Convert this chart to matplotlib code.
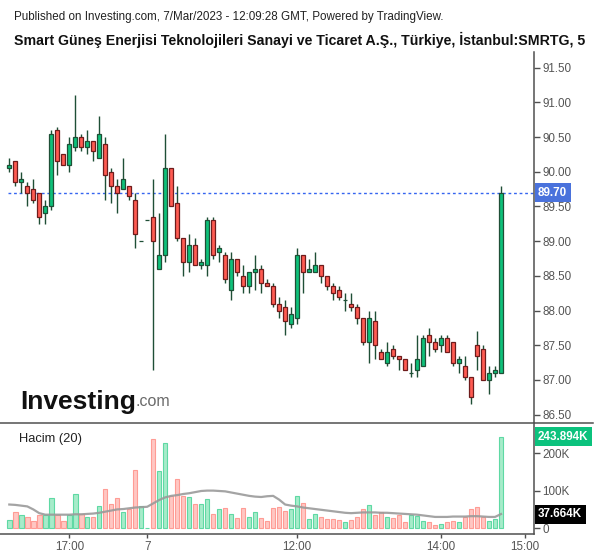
import matplotlib
matplotlib.use("Agg")
import matplotlib.pyplot as plt
from matplotlib.lines import Line2D
import numpy as np

# 5-minute candles, SMRTG, 6-7 Mar 2023
opens = [90.05, 90.15, 89.85, 89.80, 89.75, 89.70, 89.40, 89.50, 90.60, 90.25,
         90.10, 90.35, 90.50, 90.35, 90.45, 90.20, 90.40, 90.00, 89.80, 89.75,
         89.80, 89.60, 89.00, 89.30, 89.35, 88.60, 88.80, 90.05, 89.55, 89.05,
         88.70, 88.95, 88.65, 88.65, 89.30, 88.85, 88.80, 88.30, 88.75, 88.50,
         88.35, 88.55, 88.60, 88.40, 88.35, 88.10, 88.05, 87.80, 87.90, 88.80,
         88.55, 88.55, 88.65, 88.50, 88.35, 88.30, 88.15, 88.10, 88.05, 87.90,
         87.55, 87.85, 87.40, 87.25, 87.45, 87.35, 87.30, 87.10, 87.15, 87.20,
         87.65, 87.55, 87.50, 87.60, 87.55, 87.25, 87.20, 87.05, 87.50, 87.45,
         87.00, 87.10, 87.10]
highs = [90.20, 90.15, 90.00, 89.85, 89.90, 89.70, 89.60, 90.60, 90.65, 90.25,
         90.50, 91.10, 90.55, 90.60, 90.45, 90.80, 90.50, 90.05, 89.90, 90.20,
         89.80, 89.70, 89.00, 89.30, 89.90, 89.40, 90.55, 90.05, 89.80, 89.05,
         89.10, 89.05, 88.75, 89.35, 89.35, 88.95, 88.85, 88.85, 88.75, 88.65,
         88.55, 88.80, 88.65, 88.45, 88.40, 88.20, 88.15, 88.05, 88.90, 88.80,
         88.75, 88.85, 88.65, 88.50, 88.40, 88.35, 88.25, 88.25, 88.10, 87.90,
         88.00, 88.00, 87.45, 87.55, 87.50, 87.35, 87.30, 87.25, 87.65, 87.65,
         87.75, 87.60, 87.65, 87.65, 87.55, 87.35, 87.35, 87.05, 87.70, 87.50,
         87.20, 87.20, 89.80]
lows = [90.00, 89.80, 89.70, 89.50, 89.55, 89.25, 89.25, 89.45, 89.95, 90.10,
        90.00, 90.30, 90.30, 90.25, 90.15, 90.20, 89.60, 89.55, 89.40, 89.75,
        89.60, 88.90, 89.00, 89.30, 87.15, 88.60, 88.70, 89.50, 89.00, 88.50,
        88.55, 88.65, 88.60, 88.50, 88.75, 88.70, 88.40, 88.15, 88.50, 88.25,
        88.25, 88.30, 88.25, 88.35, 88.05, 87.90, 87.65, 87.75, 87.80, 88.25,
        88.55, 88.55, 88.40, 88.30, 88.15, 88.15, 88.00, 88.00, 87.80, 87.50,
        87.25, 87.30, 87.30, 87.20, 87.30, 87.15, 87.15, 87.05, 87.05, 87.20,
        87.35, 87.40, 87.40, 87.40, 87.20, 87.10, 87.00, 86.65, 87.15, 87.00,
        86.80, 87.05, 87.10]
closes = [90.10, 89.85, 89.90, 89.70, 89.60, 89.35, 89.50, 90.55, 90.15, 90.10,
          90.40, 90.50, 90.35, 90.45, 90.30, 90.55, 89.95, 89.80, 89.70, 89.90,
          89.65, 89.10, 89.00, 89.30, 89.00, 88.80, 90.05, 89.50, 89.05, 88.70,
          88.95, 88.65, 88.70, 89.30, 88.80, 88.90, 88.45, 88.75, 88.55, 88.35,
          88.55, 88.60, 88.40, 88.35, 88.10, 88.00, 87.85, 87.95, 88.80, 88.55,
          88.60, 88.65, 88.50, 88.35, 88.25, 88.20, 88.15, 88.05, 87.90, 87.55,
          87.90, 87.50, 87.30, 87.40, 87.35, 87.30, 87.15, 87.10, 87.30, 87.60,
          87.55, 87.45, 87.60, 87.40, 87.25, 87.30, 87.05, 86.75, 87.35, 87.00,
          87.10, 87.15, 89.70]

# volume in thousands
volumes = [21, 44, 34, 31, 20, 36, 35, 81, 34, 20,
           34, 92, 38, 31, 31, 60, 103, 65, 81, 42,
           51, 156, 60, 1, 238, 153, 227, 85, 131, 85,
           83, 65, 65, 78, 39, 51, 54, 39, 28, 54,
           31, 43, 27, 20, 54, 57, 47, 51, 86, 67,
           24, 38, 30, 24, 24, 23, 16, 22, 31, 51,
           61, 35, 43, 30, 26, 35, 16, 36, 33, 20,
           17, 8, 11, 16, 19, 16, 30, 51, 56, 30,
           19, 25, 243.894]
# Hacim (20) moving average line
vol_ma = [63, 62, 60, 58, 50, 40, 36, 36, 36, 36,
          36, 37, 37, 38, 39, 41, 44, 47, 50, 51,
          53, 55, 56, 57, 66, 75, 82, 86, 88, 91,
          93, 96, 99, 100, 100, 99, 98, 95, 92, 89,
          86, 84, 83, 85, 86, 76, 63, 60, 58, 55,
          53, 51, 49, 47, 45, 43, 41, 40, 41, 42,
          42, 42, 41, 41, 40, 39, 38, 37, 36, 34,
          32, 30, 30, 30, 31, 31, 31, 32, 32, 31,
          30, 30, 37.664]

tick_pos = [10, 23, 48, 72, 86]
tick_labels = ["17:00", "7", "12:00", "14:00", "15:00"]
price_ticks = [86.5, 87.0, 87.5, 88.0, 88.5, 89.0, 89.5, 90.0, 90.5, 91.0, 91.5]
vol_ticks = [0, 100, 200]

title1 = "Published on Investing.com, 7/Mar/2023 - 12:09:28 GMT, Powered by TradingView."
title2 = "Smart Güneş Enerjisi Teknolojileri Sanayi ve Ticaret A.Ş., Türkiye, İstanbul:SMRTG, 5"

UP = "#0ec17a"
DOWN = "#ff5b52"
WICK = "#1f4f36"
UP_EDGE = "#1f4f36"
DOWN_EDGE = "#6e1c1c"
AXIS = "#505050"
LABEL = "#555555"

W, H = 600, 558


def fx(px):
    return px / W


def fy(py):
    return 1 - py / H


def main():
    plt.rcParams["font.family"] = ["Liberation Sans", "DejaVu Sans"]
    o = np.array(opens)
    h = np.array(highs)
    l = np.array(lows)
    c = np.array(closes)
    x = np.arange(len(o))
    up = c >= o

    fig = plt.figure(figsize=(W / 100, H / 100), dpi=100)
    ax = fig.add_axes([0, fy(423), fx(534), fy(52) - fy(423)])
    axv = fig.add_axes([0, fy(534), fx(534), fy(423) - fy(534)])

    # candles
    ax.vlines(x, l, h, color=WICK, lw=1.0, zorder=1)
    ax.bar(x, np.abs(c - o), 0.72, bottom=np.minimum(o, c),
           color=np.where(up, UP, DOWN), edgecolor=np.where(up, UP_EDGE, DOWN_EDGE),
           linewidth=0.9, zorder=2)

    ax.axhline(closes[-1], xmin=0.015, color="#3565f0", lw=1.0,
               linestyle=(0, (2, 2)), zorder=0)

    ax.set_xlim(-1.55, 87.5)
    ax.set_ylim(86.38, 91.726)
    ax.set_yticks(price_ticks)
    ax.set_yticklabels([f"{p:.2f}" for p in price_ticks])
    ax.yaxis.tick_right()
    ax.tick_params(axis="y", colors=AXIS, labelcolor=LABEL, labelsize=8.4,
                   length=4, width=1, pad=2)
    ax.set_xticks([])
    for s in ["top", "left", "bottom"]:
        ax.spines[s].set_visible(False)
    ax.spines["right"].set_color(AXIS)
    ax.spines["right"].set_linewidth(1.1)

    ax.text(1 + 4 / 534, closes[-1], f"{closes[-1]:.2f}", transform=ax.get_yaxis_transform(),
            ha="left", va="center", color="white", fontsize=8.4, fontweight="bold",
            bbox=dict(boxstyle="square,pad=0.3", fc="#4a72dc", ec="none"), clip_on=False)

    # Investing logo
    logo = fig.text(fx(20), fy(409), "Investing", fontsize=19, fontweight="bold",
                    color="#111111", va="baseline")
    ax.annotate(".com", xy=(1, 0.2), xycoords=logo, fontsize=11.5, color="#6a6a6a",
                va="bottom", ha="left", annotation_clip=False)

    # volume panel
    axv.bar(x, volumes, 0.75, color=np.where(up, "#a6ecca", "#ffc7c3"),
            edgecolor=np.where(up, "#5fd9a4", "#ff9c95"), linewidth=0.8)
    axv.plot(x, vol_ma, color="#9a9a9a", lw=1.6, alpha=0.9)
    axv.set_xlim(-1.55, 87.5)
    axv.set_ylim(-15.4, 279.8)
    axv.set_yticks(vol_ticks)
    axv.set_yticklabels([f"{v}K" if v else "0" for v in vol_ticks])
    axv.yaxis.tick_right()
    axv.tick_params(axis="y", colors=AXIS, labelcolor=LABEL, labelsize=8.4,
                    length=4, width=1, pad=2)
    axv.set_xticks(tick_pos)
    axv.set_xticklabels(tick_labels)
    axv.tick_params(axis="x", colors=AXIS, labelcolor=LABEL, labelsize=8.4,
                    length=3, width=1, pad=2)
    for s in ["top", "left"]:
        axv.spines[s].set_visible(False)
    for s in ["right", "bottom"]:
        axv.spines[s].set_color(AXIS)
        axv.spines[s].set_linewidth(1.1)

    axv.text(19 / 534, 0.86, "Hacim (20)", transform=axv.transAxes,
             fontsize=9.3, color="#222222", va="center", ha="left")

    axv.text(1 + 4 / 534, volumes[-1], f"{volumes[-1]:.3f}K", transform=axv.get_yaxis_transform(),
             ha="left", va="center", color="white", fontsize=8.4, fontweight="bold",
             bbox=dict(boxstyle="square,pad=0.3", fc="#0bc27d", ec="none"), clip_on=False)
    axv.text(1 + 4 / 534, vol_ma[-1], f"{vol_ma[-1]:.3f}K", transform=axv.get_yaxis_transform(),
             ha="left", va="center", color="white", fontsize=8.4, fontweight="bold",
             bbox=dict(boxstyle="square,pad=0.3", fc="#000000", ec="none"), clip_on=False)

    # separator between price and volume panes
    fig.add_artist(Line2D([0, fx(593)], [fy(423), fy(423)], color=AXIS, lw=1.1))

    fig.text(fx(14), fy(17), title1, fontsize=8.4, color="#222222", va="center")
    fig.text(fx(14), fy(40), title2, fontsize=10.2, color="#111111", va="center",
             fontweight="bold")

    fig.savefig("out.png", dpi=100)


if __name__ == "__main__":
    main()
